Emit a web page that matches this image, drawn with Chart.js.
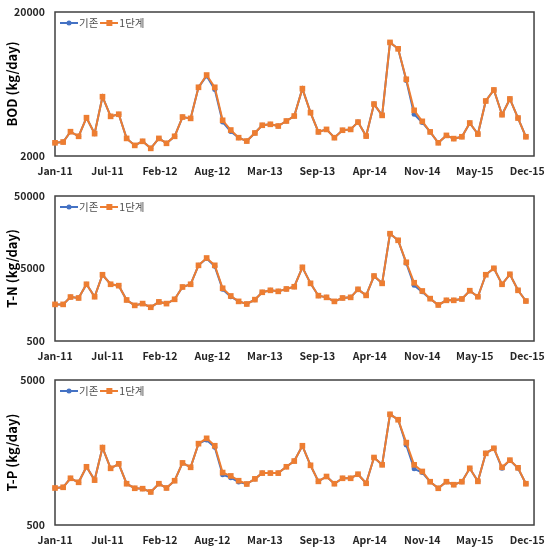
<!DOCTYPE html>
<html>
<head>
<meta charset="utf-8">
<script src="https://cdn.jsdelivr.net/npm/chart.js@4"></script>
<style>
  html, body { margin: 0; padding: 0; background: #fff; }
  #wrap { position: relative; width: 554px; height: 553px; overflow: hidden; }
  #wrap canvas { position: absolute; left: 0; }
</style>
</head>
<body>
<div id="wrap">
  <canvas id="bodChart" width="554" height="180" style="top:2px"></canvas>
  <canvas id="tnChart" width="554" height="181" style="top:186px"></canvas>
  <canvas id="tpChart" width="554" height="181" style="top:370px"></canvas>
</div>
<script>
'use strict';

// monthly, Jan-11 .. Dec-15 (first day of each month, date axis like Excel)
const monthNames = ['Jan', 'Feb', 'Mar', 'Apr', 'May', 'Jun', 'Jul', 'Aug', 'Sep', 'Oct', 'Nov', 'Dec'];
const startYear = 2011;
const monthCount = 60;
const majorUnitDays = 200;

const seriesNames = ['기존', '1단계'];

const bodBase = [2470, 2500, 2950, 2740, 3690, 2860, 5160, 3770, 3900, 2650,
  2370, 2530, 2260, 2650, 2450, 2740, 3730, 3650, 6000, 7200,
  5800, 3440, 2960, 2680, 2540, 2890, 3270, 3320, 3230, 3500,
  3790, 5870, 4000, 2940, 3060, 2680, 3020, 3060, 3440, 2750,
  4590, 3830, 12300, 11100, 6700, 3900, 3420, 2940, 2470, 2780,
  2640, 2720, 3390, 2840, 4820, 5750, 3870, 4980, 3670, 2720];
const bodStage1 = [2470, 2500, 2950, 2740, 3690, 2860, 5160, 3770, 3900, 2650,
  2370, 2530, 2260, 2650, 2450, 2740, 3730, 3650, 6000, 7300,
  6000, 3540, 3030, 2680, 2540, 2890, 3270, 3320, 3230, 3500,
  3790, 5870, 4000, 2940, 3060, 2680, 3020, 3060, 3440, 2750,
  4590, 3830, 12300, 11100, 6820, 4150, 3480, 2940, 2470, 2780,
  2640, 2720, 3390, 2840, 4820, 5750, 3870, 4980, 3670, 2720];

const tnBase = [1600, 1600, 2020, 1960, 3030, 2040, 4100, 3030, 2900, 1840,
  1550, 1640, 1460, 1730, 1640, 1880, 2780, 3030, 5530, 6850,
  5350, 2580, 2040, 1760, 1620, 1860, 2350, 2500, 2420, 2610,
  2800, 5190, 3120, 2110, 2000, 1760, 1960, 2000, 2580, 2130,
  3940, 3120, 15100, 12240, 5900, 2930, 2380, 1920, 1570, 1820,
  1820, 1900, 2470, 2040, 4100, 5030, 3030, 4160, 2500, 1780];
const tnStage1 = [1600, 1600, 2020, 1960, 3030, 2040, 4100, 3030, 2900, 1840,
  1550, 1640, 1460, 1730, 1640, 1880, 2780, 3030, 5530, 6980,
  5530, 2670, 2090, 1760, 1620, 1860, 2350, 2500, 2420, 2610,
  2800, 5190, 3120, 2110, 2000, 1760, 1960, 2000, 2580, 2130,
  3940, 3120, 15100, 12240, 6090, 3180, 2450, 1920, 1570, 1820,
  1820, 1900, 2470, 2040, 4100, 5030, 3030, 4160, 2500, 1780];

const tpBase = [900, 910, 1050, 985, 1260, 1020, 1710, 1230, 1320, 963,
  896, 890, 845, 963, 900, 1010, 1340, 1250, 1820, 1930,
  1720, 1110, 1060, 990, 959, 1040, 1140, 1140, 1140, 1260,
  1380, 1760, 1290, 1000, 1080, 963, 1050, 1050, 1120, 970,
  1460, 1300, 2900, 2660, 1780, 1220, 1150, 994, 896, 994,
  948, 994, 1230, 1000, 1560, 1690, 1230, 1400, 1230, 963];
const tpStage1 = [900, 910, 1050, 985, 1260, 1020, 1710, 1230, 1320, 963,
  896, 890, 845, 963, 900, 1010, 1340, 1250, 1820, 1980,
  1760, 1150, 1090, 1010, 959, 1040, 1140, 1140, 1140, 1260,
  1380, 1760, 1290, 1000, 1080, 963, 1050, 1050, 1120, 970,
  1460, 1300, 2900, 2660, 1850, 1300, 1170, 994, 896, 994,
  948, 994, 1230, 1000, 1560, 1690, 1250, 1400, 1240, 963];

const bodTicks = [2000, 20000];
const tnTicks = [500, 5000, 50000];
const tpTicks = [500, 5000];

const BLUE = '#4472C4';
const ORANGE = '#ED7D31';
const DAY = 86400000;
const T0 = Date.UTC(startYear, 0, 1);

Chart.defaults.font.family = '"Noto Sans CJK KR", "Noto Sans", sans-serif';

function dayOf(monthIndex) {
  return (Date.UTC(startYear, monthIndex, 1) - T0) / DAY;
}

function dateLabel(days) {
  const d = new Date(T0 + days * DAY);
  return monthNames[d.getUTCMonth()] + '-' + String(d.getUTCFullYear()).slice(2);
}

function legendIcon(color, square) {
  const c = document.createElement('canvas');
  c.width = 18;
  c.height = 8;
  const g = c.getContext('2d');
  g.strokeStyle = color;
  g.lineWidth = 2;
  g.beginPath();
  g.moveTo(0, 4);
  g.lineTo(18, 4);
  g.stroke();
  g.fillStyle = color;
  if (square) g.fillRect(6, 1, 6, 6);
  else {
    g.beginPath();
    g.arc(9, 4, 2.5, 0, Math.PI * 2);
    g.fill();
  }
  return c;
}
const icons = [legendIcon(BLUE, false), legendIcon(ORANGE, true)];

const framePlugin = {
  id: 'frame',
  beforeDatasetsDraw(chart) {
    const { ctx, chartArea: a } = chart;
    ctx.save();
    ctx.strokeStyle = '#404040';
    ctx.lineWidth = 1.5;
    ctx.strokeRect(a.left, a.top, a.right - a.left, a.bottom - a.top);
    ctx.restore();
  },
};

// legend inside the plot, top-left, one row
const insideLegend = {
  id: 'insideLegend',
  afterDraw(chart) {
    const { ctx, chartArea: a } = chart;
    const cy = a.top + 11;
    let x = a.left + 5;
    ctx.save();
    ctx.font = '10.5px "Noto Sans CJK KR", "Noto Sans", sans-serif';
    ctx.fillStyle = '#4d4d4d';
    ctx.textBaseline = 'middle';
    seriesNames.forEach((name, i) => {
      ctx.drawImage(icons[i], x, cy - 4);
      x += 19;
      ctx.fillText(name, x, cy);
      x += ctx.measureText(name).width + 2;
    });
    ctx.restore();
  },
};

function toPoints(arr) {
  return arr.map((v, i) => ({ x: dayOf(i), y: v }));
}

function makePanel(id, title, base, stage1, yTicks) {
  const xMax = dayOf(monthCount);
  const xTicks = [];
  for (let d = 0; d <= xMax; d += majorUnitDays) xTicks.push(d);

  return new Chart(document.getElementById(id).getContext('2d'), {
    type: 'line',
    data: {
      datasets: [
        {
          label: seriesNames[0],
          data: toPoints(base),
          borderColor: BLUE,
          backgroundColor: BLUE,
          borderWidth: 2,
          pointStyle: 'circle',
          pointRadius: 2.5,
          pointBorderWidth: 0,
          tension: 0,
          order: 1,
          clip: false,
        },
        {
          label: seriesNames[1],
          data: toPoints(stage1),
          borderColor: ORANGE,
          backgroundColor: ORANGE,
          borderWidth: 2,
          pointStyle: 'rect',
          pointRadius: 4,
          pointBorderWidth: 0,
          tension: 0,
          order: 0,
          clip: false,
        },
      ],
    },
    options: {
      responsive: false,
      animation: false,
      layout: { padding: { top: 10, right: 19, left: 0, bottom: 0 } },
      plugins: {
        tooltip: { enabled: false },
        legend: { display: false },
      },
      scales: {
        x: {
          type: 'linear',
          min: 0,
          max: xMax,
          grid: { display: false, drawTicks: false },
          border: { display: false },
          afterBuildTicks: (s) => { s.ticks = xTicks.map((v) => ({ value: v })); },
          afterFit: (s) => { s.height = 26; },
          ticks: {
            autoSkip: false,
            maxRotation: 0,
            padding: 9,
            color: '#262626',
            font: { size: 10.5, weight: 'bold' },
            callback: (v) => dateLabel(v),
          },
        },
        y: {
          type: 'logarithmic',
          min: yTicks[0],
          max: yTicks[yTicks.length - 1],
          grid: { display: false, drawTicks: false },
          border: { display: false },
          afterBuildTicks: (s) => { s.ticks = yTicks.map((v) => ({ value: v })); },
          afterFit: (s) => {
            s.width = 55;
            s.paddingTop = 0;
            s.paddingBottom = 0;
          },
          ticks: {
            padding: 10,
            color: '#262626',
            font: { size: 10.5, weight: 'bold' },
            callback: (v) => String(v),
          },
          title: {
            display: true,
            text: title,
            color: '#000',
            padding: { top: 4, bottom: 0 },
            font: { size: 13, weight: 'bold' },
          },
        },
      },
    },
    plugins: [framePlugin, insideLegend],
  });
}

makePanel('bodChart', 'BOD (kg/day)', bodBase, bodStage1, bodTicks);
makePanel('tnChart', 'T-N (kg/day)', tnBase, tnStage1, tnTicks);
makePanel('tpChart', 'T-P (kg/day)', tpBase, tpStage1, tpTicks);
</script>
</body>
</html>
